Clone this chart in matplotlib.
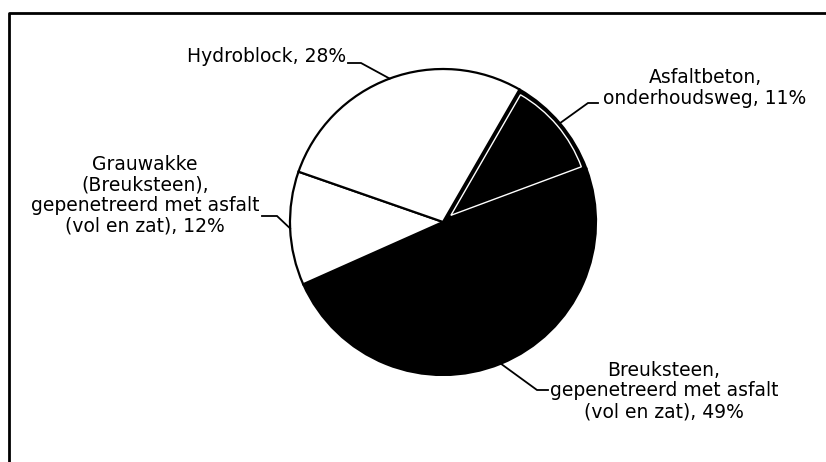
import numpy as np
import matplotlib
matplotlib.use("Agg")
import matplotlib.pyplot as plt
from matplotlib.patches import Wedge

plt.rcParams['font.family'] = ['DejaVu Sans']

# data, clockwise from the top-right slice
labels = ["Asfaltbeton,\nonderhoudsweg, 11%",
          "Breuksteen,\ngepenetreerd met asfalt\n(vol en zat), 49%",
          "Grauwakke\n(Breuksteen),\ngepenetreerd met asfalt\n(vol en zat), 12%",
          "Hydroblock, 28%"]
shares = [11, 49, 12, 28]
colors = ["black", "black", "white", "white"]

W, H = 826, 462
fig = plt.figure(figsize=(W / 100, H / 100), dpi=100)
ax = fig.add_axes([0, 0, 1, 1])

cx, cy, R = 443, H - 222, 153   # pie centre / radius in pixels
wedges, _ = ax.pie(shares, colors=colors, startangle=60, counterclock=False,
                   center=(cx, cy), radius=R,
                   wedgeprops=dict(edgecolor="black", linewidth=1.6))

# white inner outline on the asphalt slice
w = wedges[0]
mid = np.deg2rad((w.theta1 + w.theta2) / 2)
half = np.deg2rad((w.theta2 - w.theta1) / 2)
d = 3.5 / np.sin(half)
ax.add_patch(Wedge((cx + d * np.cos(mid), cy + d * np.sin(mid)), R - 3.5 - d,
                   w.theta1, w.theta2, facecolor="none", edgecolor="white",
                   linewidth=1.0, zorder=5))

# label placement: (elbow x, elbow y, line end x, text x, text y, ha)
lay = [
    (588, 103, 598, 705, 88, "center"),
    (537, 390, 548, 664, 391, "center"),
    (277, 216, 262, 145, 195, "center"),
    (361, 63, 348, 346, 57, "right"),
]
for w, lab, (ex, ey, lx, tx, ty, ha) in zip(wedges, labels, lay):
    a = np.deg2rad((w.theta1 + w.theta2) / 2)
    px, py = cx + R * np.cos(a), cy + R * np.sin(a)
    ax.plot([px, ex, lx], [py, H - ey, H - ey], color="black", lw=1.3,
            solid_joinstyle="miter")
    ax.text(tx, H - ty, lab, ha=ha, va="center", ma="center", fontsize=13.5,
            linespacing=1.1)

# frame around the chart (left and top only visible)
ax.plot([9, 9, W + 5], [-5, H - 13, H - 13], color="black", lw=2,
        clip_on=False)

ax.set_xlim(0, W)
ax.set_ylim(0, H)
ax.set_aspect("equal")
ax.axis("off")

fig.savefig("out.png", dpi=100)
